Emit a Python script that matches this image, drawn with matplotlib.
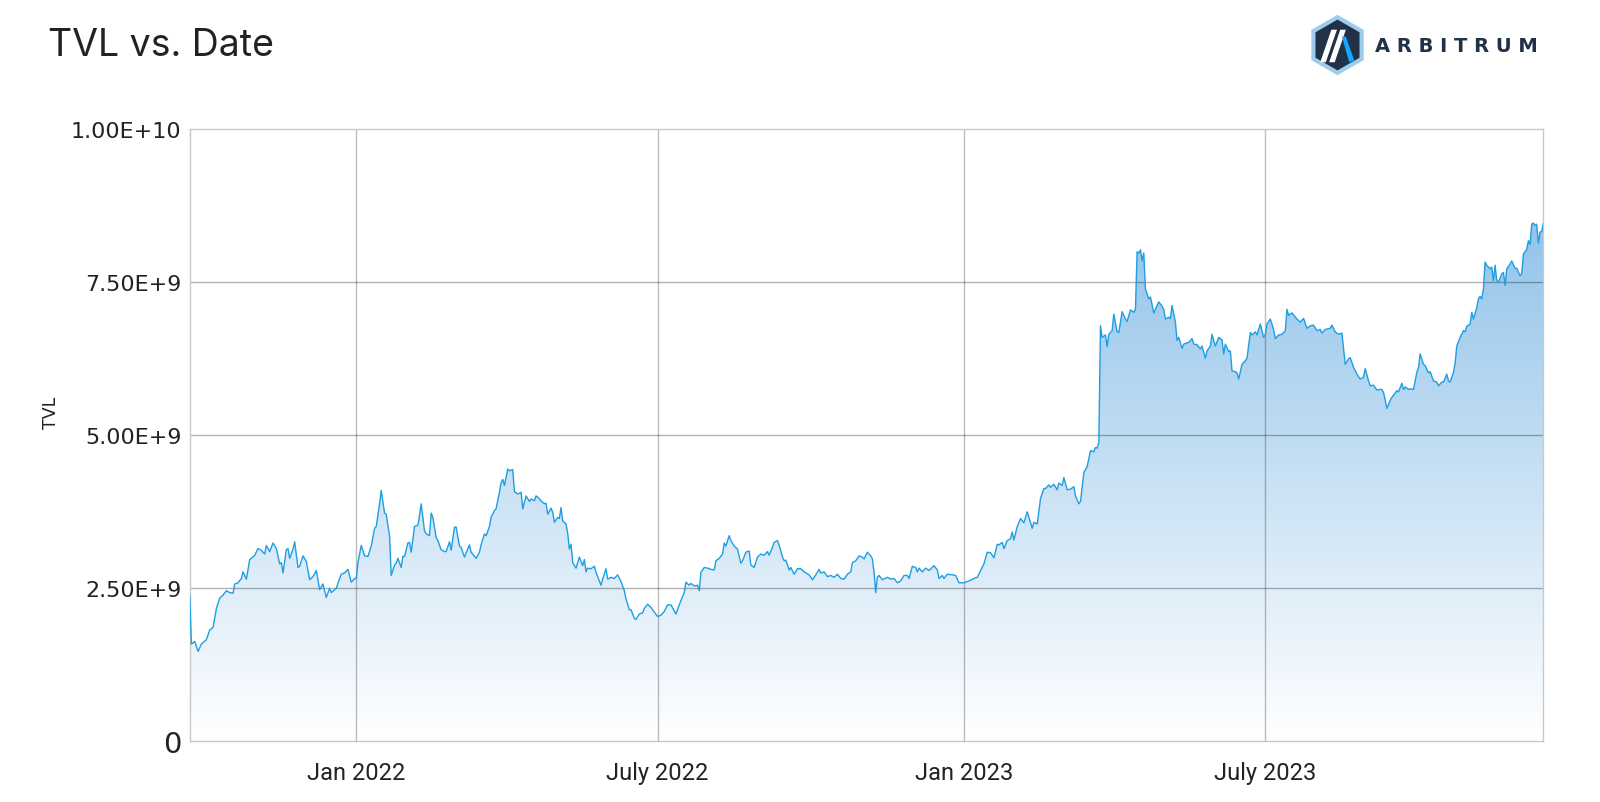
import numpy as np
import pandas as pd
import matplotlib
matplotlib.use("Agg")
import matplotlib.pyplot as plt
from matplotlib.colors import LinearSegmentedColormap
from matplotlib.patches import RegularPolygon, Polygon
import matplotlib.dates as mdates

# TVL: days since start date, value in billions USD
start = "2021-09-23"
days = [0, 1, 3, 5, 7, 10, 12, 14, 16, 18, 20, 22, 24, 26, 27, 29, 31, 32, 34, 36,
        37, 39, 41, 43, 45, 46, 48, 50, 52, 54, 55, 56, 58, 59, 60, 62, 63, 65, 66, 68,
        70, 72, 74, 76, 78, 80, 82, 84, 85, 88, 90, 91, 93, 95, 97, 99, 100, 101, 103, 105,
        107, 109, 111, 112, 114, 115, 117, 118, 120, 121, 123, 124, 125, 127, 128, 129, 131, 132, 133, 135,
        137, 138, 139, 141, 142, 144, 145, 146, 148, 149, 151, 153, 154, 156, 157, 159, 160, 162, 163, 165,
        168, 169, 172, 174, 175, 177, 178, 180, 181, 183, 184, 186, 187, 188, 189, 191, 192, 194, 195, 197,
        199, 200, 202, 204, 205, 207, 208, 209, 211, 213, 214, 215, 217, 218, 219, 221, 222, 223, 224, 226,
        227, 228, 229, 230, 232, 233, 234, 236, 237, 238, 239, 241, 243, 244, 247, 248, 250, 251, 253, 255,
        257, 259, 261, 262, 264, 265, 267, 268, 270, 272, 273, 275, 277, 279, 281, 283, 285, 287, 289, 292,
        294, 295, 297, 298, 300, 301, 303, 305, 306, 307, 309, 311, 313, 315, 316, 318, 320, 321, 322, 324,
        325, 327, 329, 331, 332, 334, 336, 337, 339, 341, 343, 345, 347, 348, 350, 351, 353, 354, 356, 357,
        358, 360, 361, 363, 365, 367, 369, 372, 374, 376, 378, 379, 381, 383, 385, 387, 389, 391, 393, 395,
        397, 398, 400, 402, 404, 405, 407, 409, 410, 411, 412, 413, 414, 416, 419, 421, 423, 425, 427, 429,
        431, 432, 434, 436, 437, 438, 440, 442, 444, 447, 449, 450, 452, 453, 455, 458, 460, 462, 465, 468,
        471, 473, 475, 477, 479, 481, 483, 485, 486, 488, 489, 491, 493, 494, 495, 497, 499, 501, 503, 504,
        506, 507, 509, 511, 513, 514, 516, 517, 519, 521, 522, 524, 525, 527, 529, 531, 532, 534, 535, 537,
        539, 541, 543, 544, 545, 546, 547, 548, 550, 551, 552, 554, 555, 557, 558, 560, 562, 563, 565, 567,
        568, 569, 570, 571, 572, 573, 574, 576, 577, 579, 580, 582, 584, 585, 586, 588, 589, 590, 592, 593,
        594, 596, 597, 600, 602, 603, 605, 607, 608, 610, 611, 613, 614, 615, 616, 618, 620, 621, 622, 624,
        625, 626, 628, 629, 630, 632, 634, 635, 637, 638, 640, 641, 642, 643, 645, 646, 647, 649, 651, 652,
        654, 656, 658, 659, 660, 662, 665, 667, 669, 671, 673, 675, 677, 679, 680, 682, 685, 686, 688, 690,
        692, 693, 694, 696, 697, 699, 701, 703, 705, 706, 708, 709, 711, 713, 715, 716, 717, 718, 719, 721,
        722, 724, 725, 726, 728, 729, 730, 732, 733, 735, 737, 738, 739, 741, 742, 744, 745, 747, 749, 750,
        752, 753, 755, 756, 757, 759, 760, 761, 763, 765, 766, 767, 769, 770, 771, 773, 774, 775, 776, 777,
        778, 779, 781, 782, 783, 784, 785, 786, 788, 789, 790, 791, 793, 794, 796, 797, 799, 800, 801, 803,
        804, 805, 806, 807, 808, 809, 810, 811, 812, 813]
tvl = [2.38, 1.59, 1.63, 1.47, 1.59, 1.66, 1.82, 1.86, 2.17, 2.34, 2.39, 2.46, 2.43, 2.42, 2.57, 2.59, 2.66, 2.77, 2.65, 2.97,
       2.99, 3.04, 3.15, 3.12, 3.06, 3.20, 3.10, 3.24, 3.15, 2.90, 2.92, 2.75, 3.13, 3.15, 2.99, 3.14, 3.26, 2.84, 2.86, 3.03,
       2.94, 2.64, 2.69, 2.79, 2.48, 2.57, 2.35, 2.50, 2.43, 2.50, 2.66, 2.73, 2.75, 2.81, 2.60, 2.66, 2.66, 2.92, 3.20, 3.03,
       3.02, 3.19, 3.48, 3.51, 3.88, 4.10, 3.73, 3.71, 3.36, 2.71, 2.88, 2.91, 2.99, 2.84, 3.02, 3.02, 3.24, 3.25, 3.09, 3.51,
       3.53, 3.69, 3.88, 3.44, 3.39, 3.36, 3.73, 3.66, 3.33, 3.28, 3.13, 3.10, 3.10, 3.26, 3.12, 3.50, 3.50, 3.19, 3.17, 3.01,
       3.21, 3.09, 2.99, 3.09, 3.21, 3.39, 3.36, 3.51, 3.66, 3.77, 3.80, 4.07, 4.23, 4.28, 4.18, 4.45, 4.42, 4.44, 4.08, 4.04,
       4.07, 3.80, 4.01, 3.92, 3.96, 3.93, 4.01, 3.99, 3.93, 3.88, 3.89, 3.71, 3.81, 3.74, 3.58, 3.66, 3.64, 3.82, 3.60, 3.55,
       3.40, 3.14, 3.22, 2.92, 2.83, 2.92, 3.01, 2.87, 2.97, 2.77, 2.83, 2.82, 2.86, 2.76, 2.55, 2.65, 2.82, 2.65, 2.68, 2.66,
       2.72, 2.61, 2.46, 2.33, 2.15, 2.15, 2.01, 1.99, 2.08, 2.10, 2.17, 2.24, 2.19, 2.11, 2.04, 2.06, 2.12, 2.23, 2.23, 2.08,
       2.23, 2.30, 2.43, 2.60, 2.55, 2.58, 2.54, 2.55, 2.46, 2.76, 2.84, 2.83, 2.81, 2.80, 2.95, 2.99, 3.06, 3.24, 3.19, 3.36,
       3.28, 3.19, 3.14, 2.91, 2.95, 3.09, 3.11, 2.88, 2.84, 3.01, 3.06, 3.04, 3.10, 3.04, 3.17, 3.25, 3.28, 3.20, 3.01, 2.95,
       2.96, 2.80, 2.84, 2.73, 2.82, 2.82, 2.77, 2.72, 2.64, 2.72, 2.81, 2.75, 2.77, 2.69, 2.71, 2.68, 2.73, 2.66, 2.65, 2.73,
       2.77, 2.92, 2.95, 3.03, 3.01, 2.98, 3.09, 3.03, 2.98, 2.76, 2.43, 2.68, 2.71, 2.64, 2.68, 2.65, 2.66, 2.59, 2.62, 2.71,
       2.71, 2.66, 2.86, 2.84, 2.77, 2.83, 2.77, 2.83, 2.79, 2.87, 2.80, 2.66, 2.71, 2.66, 2.73, 2.72, 2.71, 2.59, 2.59, 2.62,
       2.66, 2.68, 2.79, 2.90, 3.09, 3.08, 3.00, 3.22, 3.21, 3.25, 3.15, 3.28, 3.31, 3.42, 3.29, 3.51, 3.64, 3.57, 3.75, 3.66,
       3.48, 3.58, 3.55, 3.97, 4.13, 4.13, 4.19, 4.15, 4.20, 4.11, 4.22, 4.18, 4.31, 4.11, 4.12, 4.16, 4.01, 3.88, 3.92, 4.39,
       4.49, 4.75, 4.73, 4.80, 4.79, 4.88, 6.79, 6.60, 6.64, 6.45, 6.65, 6.71, 6.98, 6.69, 6.68, 7.02, 6.90, 6.86, 7.05, 7.01,
       7.06, 8.00, 7.98, 8.03, 7.85, 7.98, 7.39, 7.23, 7.26, 7.00, 7.06, 7.18, 7.11, 7.06, 6.90, 6.93, 6.91, 7.12, 6.85, 6.55,
       6.60, 6.42, 6.49, 6.52, 6.58, 6.49, 6.48, 6.41, 6.46, 6.26, 6.38, 6.46, 6.65, 6.55, 6.46, 6.60, 6.56, 6.33, 6.49, 6.37,
       6.38, 6.05, 6.04, 6.02, 5.92, 6.16, 6.22, 6.26, 6.68, 6.64, 6.69, 6.64, 6.73, 6.82, 6.60, 6.65, 6.82, 6.90, 6.73, 6.58,
       6.64, 6.65, 6.71, 7.06, 6.96, 7.00, 6.90, 6.85, 6.91, 6.75, 6.79, 6.80, 6.71, 6.73, 6.67, 6.73, 6.75, 6.80, 6.69, 6.65,
       6.67, 6.41, 6.16, 6.25, 6.27, 6.11, 6.00, 5.92, 5.95, 6.09, 5.89, 5.81, 5.82, 5.74, 5.75, 5.75, 5.70, 5.58, 5.44, 5.57,
       5.62, 5.69, 5.73, 5.71, 5.85, 5.75, 5.79, 5.75, 5.76, 5.75, 6.03, 6.11, 6.33, 6.16, 6.14, 6.02, 6.04, 5.89, 5.87, 5.81,
       5.87, 5.87, 6.00, 5.89, 5.87, 6.03, 6.18, 6.46, 6.60, 6.71, 6.69, 6.78, 6.82, 7.01, 6.90, 7.09, 7.23, 7.27, 7.23, 7.39,
       7.83, 7.78, 7.72, 7.75, 7.53, 7.78, 7.53, 7.50, 7.64, 7.66, 7.45, 7.72, 7.80, 7.85, 7.73, 7.73, 7.61, 7.64, 7.96, 8.04,
       8.18, 8.12, 8.45, 8.47, 8.43, 8.45, 8.14, 8.32, 8.33, 8.47]

ytick_vals = [0, 2.5e9, 5e9, 7.5e9, 1e10]
ytick_labels = ["0", "2.50E+9", "5.00E+9", "7.50E+9", "1.00E+10"]
xtick_dates = ["2022-01-01", "2022-07-01", "2023-01-01", "2023-07-01"]
xtick_labels = ["Jan 2022", "July 2022", "Jan 2023", "July 2023"]

dates = pd.Timestamp(start) + pd.to_timedelta(days, unit="D")
values = np.array(tvl) * 1e9

fig = plt.figure(figsize=(16, 8.03), dpi=100)
ax = fig.add_axes([0.1186, 0.0756, 0.846, 0.7621])

# gradient fill under the line
x0, x1 = mdates.date2num(dates[0]), mdates.date2num(dates[-1])
cmap = LinearSegmentedColormap.from_list("fade", ["#ffffff", "#7fb9e6"])
grad = np.linspace(0, 1, 256).reshape(-1, 1)
poly = ax.fill_between(dates, values, 0, color="none", lw=0)
img = ax.imshow(grad, extent=[x0, x1, 0, 1e10], origin="lower", aspect="auto",
                cmap=cmap, vmin=0, vmax=1, zorder=1)
img.set_clip_path(poly.get_paths()[0], ax.transData)

ax.plot(dates, values, color="#1d9fe2", lw=1.0, zorder=3)

# grid
for v in ytick_vals[1:-1]:
    ax.axhline(v, color="k", alpha=0.3, lw=1, zorder=2)
for d in xtick_dates:
    ax.axvline(pd.Timestamp(d), color="k", alpha=0.26, lw=1, zorder=2)

ax.set_xlim(dates[0], dates[-1])
ax.set_ylim(0, 1e10)
ax.set_yticks(ytick_vals)
ax.set_yticklabels(ytick_labels, fontsize=16, color="#222222", family="DejaVu Sans")
ax.get_yticklabels()[0].set_fontsize(21)
ax.set_xticks([pd.Timestamp(d) for d in xtick_dates])
ax.set_xticklabels(xtick_labels, fontsize=17, color="#222222", family="Roboto")
ax.tick_params(axis="both", length=0)
ax.tick_params(axis="y", pad=6)
ax.tick_params(axis="x", pad=14)
for s in ax.spines.values():
    s.set_color("#c8c8c8")
    s.set_linewidth(1)

fig.text(51 / 1600, 1 - 413 / 803, "TVL", rotation=90, fontsize=12.5,
         ha="center", va="center", color="#222222")
fig.text(48 / 1600, 1 - 46 / 803, "TVL vs. Date", fontsize=27, family="Inter",
         ha="left", va="center", color="#222222")

# Arbitrum logo
lax = fig.add_axes([1305 / 1600, 1 - 78 / 803, 65 / 1600, 64 / 803])
lax.set_xlim(-1.15, 1.15)
lax.set_ylim(-1.15, 1.15)
lax.set_aspect("equal")
lax.axis("off")
lax.add_patch(RegularPolygon((0, 0), 6, radius=1.0, orientation=0,
                             facecolor="#213147", edgecolor="#9dccec", lw=3))
lax.add_patch(Polygon([[-0.62, -0.62], [-0.42, -0.62], [-0.02, 0.55], [-0.22, 0.55]],
                      facecolor="white", lw=0))
lax.add_patch(Polygon([[-0.30, -0.62], [-0.10, -0.62], [0.30, 0.55], [0.10, 0.55]],
                      facecolor="white", lw=0))
lax.add_patch(Polygon([[0.16, 0.30], [0.30, 0.30], [0.60, -0.55], [0.42, -0.62]],
                      facecolor="#12aaff", lw=0))
fig.text(1375 / 1600, 1 - 46 / 803, "A R B I T R U M", fontsize=14, fontweight="bold",
         ha="left", va="center", color="#213147")

fig.savefig("out.png", dpi=100)
